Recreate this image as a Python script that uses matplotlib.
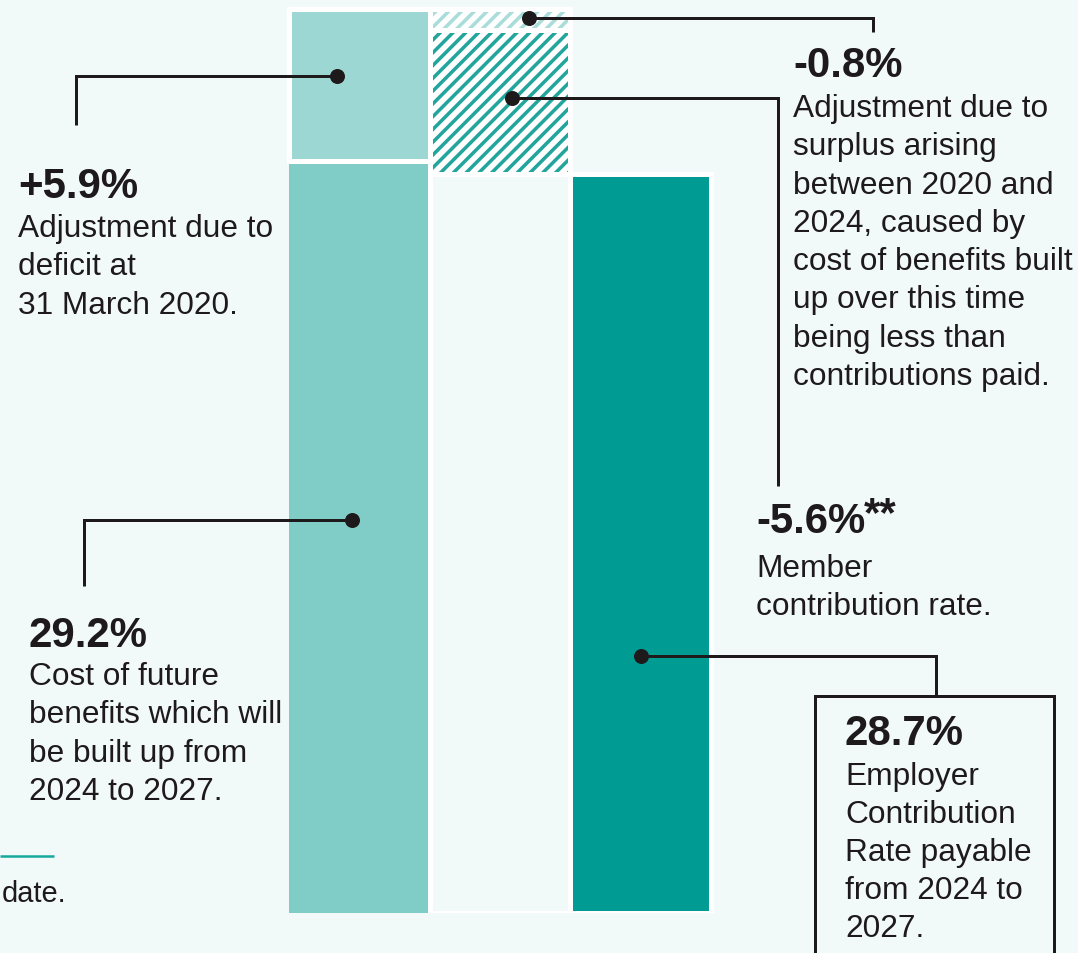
import matplotlib
matplotlib.use("Agg")
import matplotlib.pyplot as plt
from matplotlib.patches import Rectangle

# ---------------- data ----------------
categories = ["Future service cost", "Member contributions", "Employer rate"]
future_cost = 29.2        # cost of future benefits
deficit_adj = 5.9         # deficit adjustment
surplus_adj = -0.8        # surplus adjustment
member_rate = -5.6        # member contribution rate
employer_rate = 28.7      # resulting employer rate

header_labels = ["+5.9%", "29.2%", "-0.8%", "-5.6%", "28.7%"]
body_59 = ["Adjustment due to", "deficit at", "31 March 2020."]
body_292 = ["Cost of future", "benefits which will", "be built up from", "2024 to 2027."]
body_08 = ["Adjustment due to", "surplus arising", "between 2020 and", "2024, caused by",
           "cost of benefits built", "up over this time", "being less than",
           "contributions paid."]
body_56 = ["Member", "contribution rate."]
body_287 = ["Employer", "Contribution", "Rate payable", "from 2024 to", "2027."]

# ---------------- style ----------------
DPI = 115
W, H = 1078, 954
BG = "#F2FAF9"
C_TOP1 = "#9DD7D3"
C_BASE1 = "#80CDC8"
C_EMP = "#009C94"
C_HATCH = "#22A59C"
C_HATCH_L = "#A9DDD9"
TXT = "#1E1A1B"
FONT = "Liberation Sans"

plt.rcParams["hatch.linewidth"] = 2.2
plt.rcParams["font.family"] = [FONT, "DejaVu Sans"]

def px2pt(p):
    return p * 72.0 / DPI

fig = plt.figure(figsize=(W / DPI, H / DPI), dpi=DPI, facecolor=BG)

# bar axes: value 0 at pixel y=914, 25.755 px per percent; column i centred at 359.5 + 140.5*i
base_px = 914.0
ppu = 25.755
ax = fig.add_axes([0, (H - base_px) / H, 1, base_px / H])
ax.set_ylim(0, base_px / ppu)
ax.set_xlim(-359.5 / 140.5, (W - 359.5) / 140.5)
ax.axis("off")
ax.set_facecolor("none")

x = [0, 1, 2]
bw = 1.0
edge_lw = px2pt(5)

total = future_cost + deficit_adj
surplus_bottom = total + surplus_adj
member_bottom = surplus_bottom + member_rate

# column 1
ax.bar(x[0], future_cost, width=bw, color=C_BASE1, linewidth=0, zorder=2)
ax.bar(x[0], deficit_adj, bottom=future_cost, width=bw, color=C_TOP1,
       edgecolor="white", linewidth=edge_lw, joinstyle="miter", zorder=3)

# column 2 (invisible base + hatched reductions)
ax.bar(x[1], member_bottom, width=bw, color=BG, edgecolor="white",
       linewidth=edge_lw, joinstyle="miter", zorder=2)
ax.bar(x[1], -member_rate, bottom=member_bottom, width=bw, color="white",
       edgecolor=C_HATCH, hatch="///", linewidth=0, zorder=2)
ax.bar(x[1], -surplus_adj, bottom=surplus_bottom, width=bw, color="white",
       edgecolor=C_HATCH_L, hatch="///", linewidth=0, zorder=2)
ax.bar([x[1], x[1]], [-member_rate, -surplus_adj], bottom=[member_bottom, surplus_bottom],
       width=bw, fill=False, edgecolor="white", linewidth=edge_lw,
       joinstyle="miter", zorder=3)

# column 3
ax.bar(x[2], employer_rate, width=bw, color=C_EMP, edgecolor="white",
       linewidth=edge_lw, joinstyle="miter", zorder=2)

# ---------------- annotation overlay (pixel coordinates) ----------------
ov = fig.add_axes([0, 0, 1, 1])
ov.set_xlim(0, W)
ov.set_ylim(H, 0)
ov.axis("off")
ov.set_facecolor("none")

LW = px2pt(3)
MS = px2pt(15)

def leader(pts):
    xs = [p[0] for p in pts]
    ys = [p[1] for p in pts]
    ov.plot(xs, ys, color=TXT, lw=LW, solid_capstyle="butt", solid_joinstyle="miter")
    ov.plot(xs[0], ys[0], "o", color=TXT, ms=MS, mew=0)

HFS = px2pt(42)
BFS = px2pt(31.6)

def block(x0, head_base, head, body_base, body, step=38.3):
    ov.text(x0, head_base, head, fontsize=HFS, fontweight="bold", color=TXT,
            ha="left", va="baseline", family=[FONT, "DejaVu Sans"])
    for i, line in enumerate(body):
        ov.text(x0, body_base + i * step, line, fontsize=BFS, color=TXT,
                ha="left", va="baseline", family=[FONT, "DejaVu Sans"])

# +5.9%
leader([(337, 77), (76, 77), (76, 126)])
block(18, 198, header_labels[0], 237, body_59)

# 29.2%
leader([(352, 521), (84, 521), (84, 587)])
block(29, 647, header_labels[1], 685, body_292)

# -0.8%
leader([(529, 19), (873, 19), (873, 33)])
block(793, 77, header_labels[2], 117, body_08)

# -5.6%**
leader([(512, 99), (778, 99), (778, 487)])
block(756, 533, header_labels[3], 577, body_56)
ov.text(864, 526, "**", fontsize=HFS, fontweight="bold", color=TXT,
        ha="left", va="baseline", family=[FONT, "DejaVu Sans"])

# 28.7% box
leader([(641, 657), (936, 657), (936, 697)])
ov.add_patch(Rectangle((815, 697), 239, 300, facecolor=BG, edgecolor=TXT,
                       linewidth=LW, joinstyle="miter", zorder=1))
block(845, 745, header_labels[4], 785, body_287, step=38.0)

# footnote fragment
ov.plot([0, 54], [857, 857], color="#17A89E", lw=px2pt(2.5), solid_capstyle="butt")
ov.text(2, 902, "date.", fontsize=px2pt(29), color=TXT, ha="left", va="baseline",
        family=[FONT, "DejaVu Sans"])

fig.savefig("out.png", dpi=DPI, facecolor=BG)
